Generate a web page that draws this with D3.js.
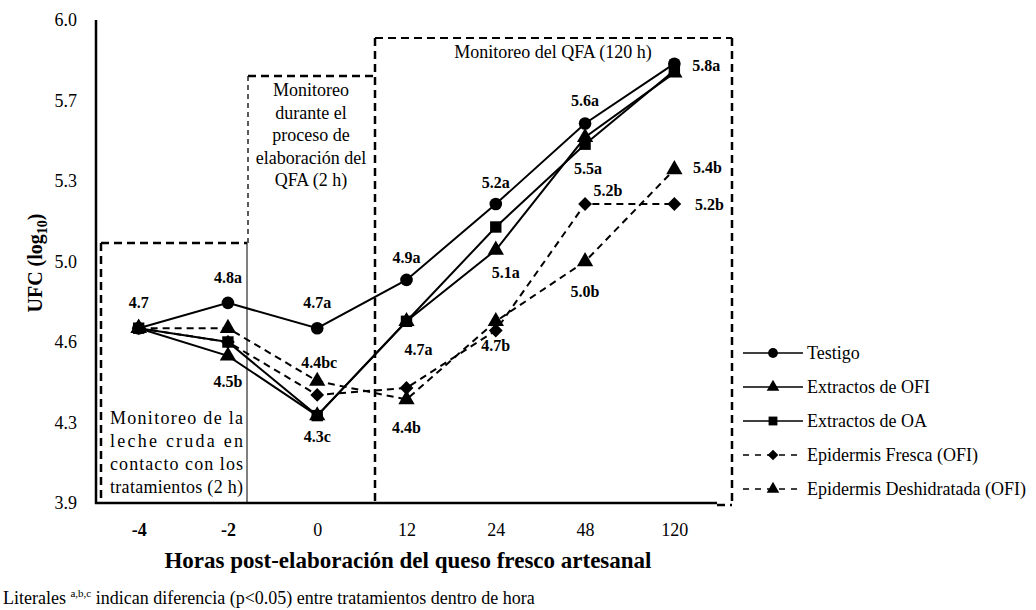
<!DOCTYPE html>
<html>
<head>
<meta charset="utf-8">
<script src="https://cdn.jsdelivr.net/npm/d3@7"></script>
<style>
  body { margin: 0; background: #fff; }
</style>
</head>
<body>
<svg id="chart" width="1036" height="610"></svg>
<script>
// data
const categories = ["-4", "-2", "0", "12", "24", "48", "120"];
const seriesNames = ["Testigo", "Extractos de OFI", "Extractos de OA", "Epidermis Fresca (OFI)", "Epidermis Deshidratada (OFI)"];
const testigo = [4.66, 4.77, 4.66, 4.87, 5.20, 5.55, 5.81];
const extOFI  = [4.66, 4.54, 4.28, 4.69, 5.00, 5.49, 5.77];
const extOA   = [4.66, 4.60, 4.28, 4.69, 5.10, 5.46, 5.78];
const epiFresca = [4.66, 4.60, 4.37, 4.40, 4.65, 5.20, 5.20];
const epiDesh   = [4.66, 4.66, 4.43, 4.35, 4.69, 4.95, 5.35];
const yTickValues = [3.9, 4.25, 4.6, 4.95, 5.3, 5.65, 6.0];
const yTickLabels = ["3.9", "4.3", "4.6", "5.0", "5.3", "5.7", "6.0"];
// point labels: [category index, series index, text]
const pointLabels = [
  [0, 0, "4.7"], [1, 0, "4.8a"], [1, 1, "4.5b"],
  [2, 0, "4.7a"], [2, 4, "4.4bc"], [2, 2, "4.3c"],
  [3, 0, "4.9a"], [3, 2, "4.7a"], [3, 4, "4.4b"],
  [4, 0, "5.2a"], [4, 1, "5.1a"], [4, 4, "4.7b"],
  [5, 0, "5.6a"], [5, 2, "5.5a"], [5, 3, "5.2b"], [5, 4, "5.0b"],
  [6, 0, "5.8a"], [6, 4, "5.4b"], [6, 3, "5.2b"]
];
// offsets for each label, same order as pointLabels
const labelOffsets = [
  [0, -25], [0, -25], [0, 26],
  [0, -25], [2, -18], [0, 21],
  [0, -22], [12, 29], [0, 28],
  [0, -21], [10, 23], [0, 25],
  [0, -23], [3, 25], [23, -13], [0, 30],
  [32, 2], [33, -2], [35, 1]
];
const boxText1 = ["Monitoreo de la", "leche cruda en", "contacto con los", "tratamientos (2 h)"];
const boxText2 = ["Monitoreo", "durante el", "proceso de", "elaboración del", "QFA (2 h)"];
const boxText3 = "Monitoreo del QFA (120 h)";

const allSeries = [testigo, extOFI, extOA, epiFresca, epiDesh];
const markers = [d3.symbolCircle, d3.symbolTriangle, d3.symbolSquare, d3.symbolSquare, d3.symbolTriangle];
const markerRot = [0, 0, 0, 45, 0];
const markerSize = [125, 115, 130, 95, 115];
const dashed = [false, false, false, true, true];
const FONT = '"Liberation Serif"';

const svg = d3.select('#chart');
const x = d3.scalePoint().domain(categories).range([94, 719]).padding(0.5);
const y = d3.scaleLinear().domain([3.9, 6.0]).range([503, 20]);

// boxes
function dline(x1, y1, x2, y2, w, dash) {
  svg.append('line').attr('x1', x1).attr('y1', y1).attr('x2', x2).attr('y2', y2)
    .attr('stroke', '#000').attr('stroke-width', w).attr('stroke-dasharray', dash);
}
// box 1
dline(101, 243, 247, 243, 2.5, '8,5');
dline(101, 243, 101, 503, 2.5, '8,5');
dline(247, 243, 247, 503, 1, null);
// box 2
dline(248, 76, 373, 76, 2.5, '8,5');
dline(248, 76, 248, 243, 1.3, '5,4');
// box 3
dline(375, 38, 732, 38, 1.8, '8,5');
dline(375, 38, 375, 503, 2.5, '8,5');
dline(732, 38, 732, 505, 2.5, '8,5');
dline(717, 505, 732, 505, 2.5, '8,5');

// box texts
const bt1 = svg.append('g').attr('font-size', 18);
boxText1.forEach((t, i) => {
  bt1.append('text').attr('x', 110).attr('y', 424 + i * 23)
    .attr('textLength', 133).attr('lengthAdjust', 'spacing').text(t);
});
const bt2 = svg.append('g').attr('font-size', 18).attr('text-anchor', 'middle');
boxText2.forEach((t, i) => {
  bt2.append('text').attr('x', 311).attr('y', 96 + i * 22.5).text(t);
});
svg.append('text').attr('x', 553).attr('y', 58).attr('font-size', 18)
  .attr('text-anchor', 'middle').text(boxText3);

// axes
svg.append('line').attr('x1', 96).attr('y1', 20).attr('x2', 96).attr('y2', 504)
  .attr('stroke', '#000').attr('stroke-width', 2.5);
svg.append('line').attr('x1', 95).attr('y1', 503).attr('x2', 717).attr('y2', 503)
  .attr('stroke', '#000').attr('stroke-width', 2.5);

const yAxis = d3.axisLeft(y).tickValues(yTickValues).tickSize(0).tickPadding(19)
  .tickFormat((d, i) => yTickLabels[i]);
const gy = svg.append('g').attr('transform', 'translate(96,0)').call(yAxis);
gy.select('.domain').remove();
gy.selectAll('text').attr('font-size', 18).attr('fill', '#000');

const xAxis = d3.axisBottom(x).tickSize(0).tickPadding(20);
const gx = svg.append('g').attr('transform', 'translate(0,503)').call(xAxis);
gx.select('.domain').remove();
gx.selectAll('text').attr('font-size', 18).attr('fill', '#000')
  .attr('font-weight', (d, i) => i < 2 ? 'bold' : 'normal');

// axis titles
const yt = svg.append('text').attr('transform', 'translate(42,263) rotate(-90)')
  .attr('text-anchor', 'middle').attr('font-size', 20).attr('font-weight', 'bold');
yt.append('tspan').text('UFC (log');
yt.append('tspan').attr('font-size', 14).attr('dy', 5).text('10');
yt.append('tspan').attr('dy', -5).text(')');

svg.append('text').attr('x', 408).attr('y', 568).attr('text-anchor', 'middle')
  .attr('font-size', 23).attr('font-weight', 'bold')
  .text('Horas post-elaboración del queso fresco artesanal');

const fn = svg.append('text').attr('x', 3).attr('y', 604).attr('font-size', 18);
fn.append('tspan').text('Literales ');
fn.append('tspan').attr('font-size', 11).attr('dy', -7).text('a,b,c');
fn.append('tspan').attr('dy', 7).text(' indican diferencia (p<0.05) entre tratamientos dentro de hora');

// series lines
const line = d3.line().x((d, i) => x(categories[i])).y(d => y(d));
const drawOrder = [0, 1, 3, 2, 4];
drawOrder.forEach(s => {
  svg.append('path').datum(allSeries[s]).attr('d', line)
    .attr('fill', 'none').attr('stroke', '#000').attr('stroke-width', 2)
    .attr('stroke-dasharray', dashed[s] ? '7,5' : null);
});
drawOrder.forEach(s => {
  svg.append('g').selectAll('path').data(allSeries[s]).join('path')
    .attr('transform', (d, i) => `translate(${x(categories[i])},${y(d)}) rotate(${markerRot[s]})`)
    .attr('d', d3.symbol().type(markers[s]).size(markerSize[s]))
    .attr('fill', '#000');
});

// point labels
svg.append('g').attr('font-size', 16).attr('font-weight', 'bold').attr('text-anchor', 'middle')
  .selectAll('text').data(pointLabels).join('text')
  .attr('x', (d, i) => x(categories[d[0]]) + labelOffsets[i][0])
  .attr('y', (d, i) => y(allSeries[d[1]][d[0]]) + labelOffsets[i][1] + 5)
  .text(d => d[2]);

// legend
const legend = svg.append('g').attr('transform', 'translate(743,353)');
seriesNames.forEach((name, i) => {
  const g = legend.append('g').attr('transform', `translate(0,${i * 34})`);
  g.append('line').attr('x1', 0).attr('x2', 60).attr('y1', 0).attr('y2', 0)
    .attr('stroke', '#000').attr('stroke-width', 1.3)
    .attr('stroke-dasharray', dashed[i] ? '6,6' : null);
  g.append('path').attr('transform', `translate(30,0) rotate(${markerRot[i]})`)
    .attr('d', d3.symbol().type(markers[i]).size(markerSize[i] * 0.6)).attr('fill', '#000');
  g.append('text').attr('x', 64).attr('y', 6).attr('font-size', 18).text(name);
});

svg.selectAll('text').style('font-family', FONT);
svg.selectAll('g').attr('font-family', null);
</script>
</body>
</html>
